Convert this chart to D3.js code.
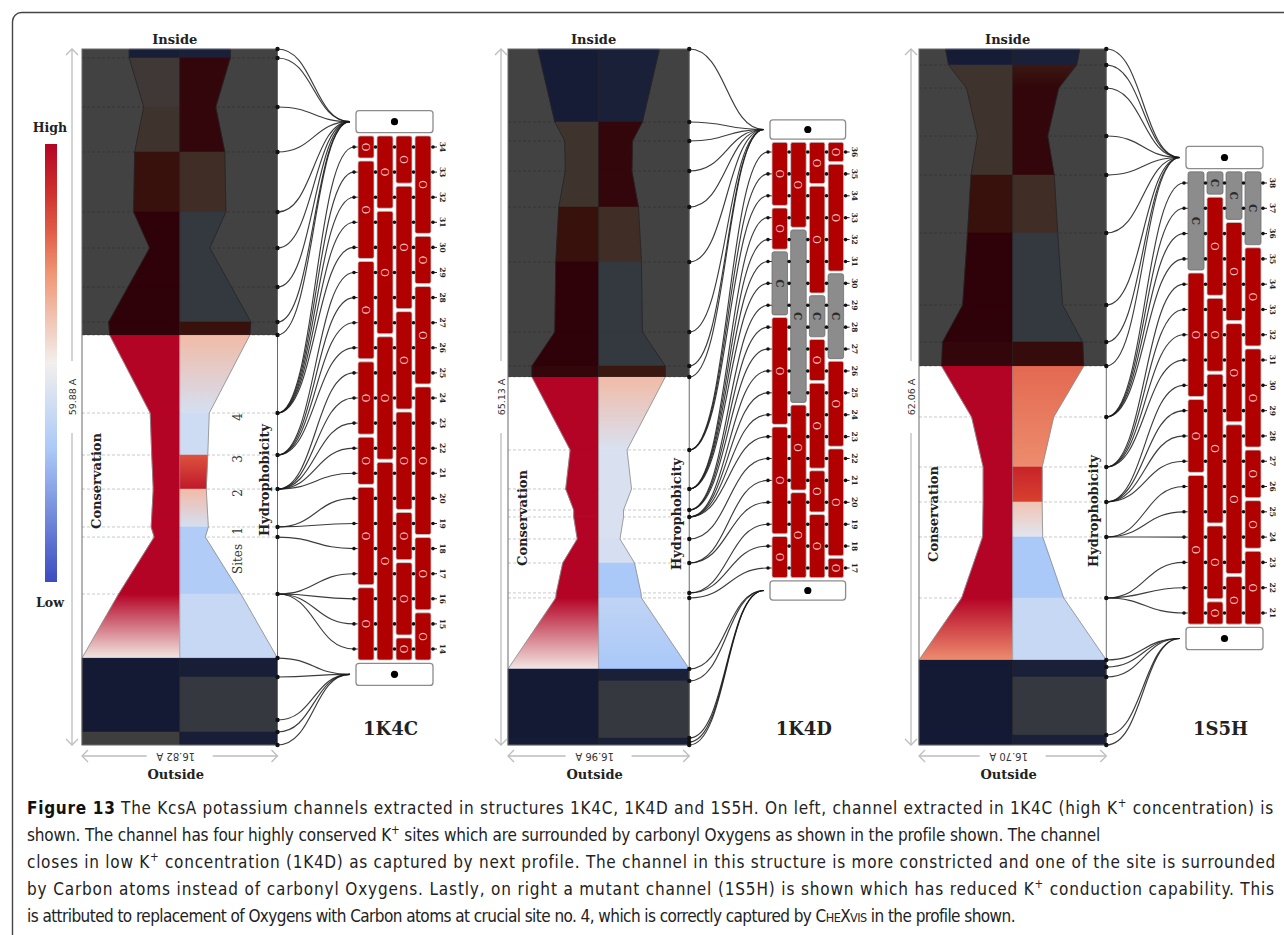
<!DOCTYPE html>
<html>
<head>
<meta charset="utf-8">
<script src="https://cdn.jsdelivr.net/npm/d3@7"></script>
<style>
  body { margin: 0; background: #fff; }
  svg { display: block; }
</style>
</head>
<body>
<svg id="fig" width="1284" height="935"></svg>
<script>
// channel names, lengths and widths (Angstrom)
var panels = ['1K4C', '1K4D', '1S5H'];
var channelLength = [59.88, 65.13, 62.06];
var channelWidth = [16.82, 16.96, 16.70];
// the dark (outside the membrane) parts of each channel, in Angstrom from the top
var overlayTopEnd = [24.61, 30.69, 28.27];
var overlayBottomStart = [52.40, 58.01, 54.48];

// profile nodes: depth along channel and radius (Angstrom)
var depth1K4C = [0, 0.77, 4.99, 8.86, 14.02, 17.12, 20.48, 23.49, 24.61, 31.32, 34.93, 37.86, 41.12, 41.99, 46.89, 52.40, 54.03, 57.73, 58.76, 59.88];
var radius1K4C = [4.35, 4.35, 3.10, 3.88, 3.97, 2.59, 4.45, 6.12, 6.03, 2.54, 2.41, 2.28, 2.46, 2.20, 5.26, 8.41, 8.41, 8.41, 8.41, 8.41];
var depth1K4D = [0, 6.83, 8.61, 11.42, 14.79, 19.93, 26.48, 29.66, 30.69, 37.52, 41.17, 43.14, 43.79, 45.85, 48.10, 50.90, 51.37, 58.01, 59.13, 64.47, 64.84, 65.13];
var radius1K4D = [5.69, 4.10, 3.17, 3.12, 3.73, 4.01, 4.10, 6.24, 6.24, 2.66, 3.08, 2.33, 2.33, 2.00, 3.36, 3.96, 4.01, 8.48, 8.48, 8.48, 8.48, 8.48];
var depth1S5H = [0, 1.43, 3.48, 7.76, 11.24, 16.41, 22.83, 26.13, 28.27, 32.81, 37.27, 40.39, 43.51, 48.95, 54.48, 55.11, 56.0, 61.17, 62.06];
var radius1S5H = [5.98, 5.71, 4.11, 3.13, 3.71, 4.02, 4.46, 6.25, 6.34, 3.66, 2.63, 2.63, 2.68, 4.55, 8.35, 8.35, 8.35, 8.35, 8.35];

// per segment (between nodes) conservation and hydrophobicity, 0 = low, 1 = high
// [a, b] means a gradient from top to bottom of the segment
var cons1K4C = [0.1, 0.55, 0.6, 0.85, 1, 1, 1, 1, 1, 1, 1, 1, 1, 1, [1, 0.52], 0.05, 0.05, 0.05, 0.5];
var hydro1K4C = [0.12, 0.95, 0.95, 0.65, 0.38, 0.38, 0.38, 0.85, [0.62, 0.42], 0.4, [0.82, 0.95], [0.62, 0.42], 0.32, 0.32, 0.38, 0.1, 0.4, 0.4, 0.1];
var cons1K4D = [0.08, 0.6, 0.6, 0.6, 0.85, 1, 1, 0.95, 1, 1, 1, 1, 1, 1, 1, 1, [1, 0.52], 0.05, 0.05, 0.08, 0.08];
var hydro1K4D = [0.12, 0.95, 0.95, 0.95, 0.65, 0.38, 0.38, 0.8, [0.62, 0.43], 0.43, 0.43, 0.43, 0.43, 0.42, 0.3, 0.3, [0.36, 0.3], 0.12, 0.4, 0.12, 0.12];
var cons1S5H = [0.08, 0.6, 0.6, 0.6, 0.85, 1, 1, 0.95, 1, 1, 1, 1, 1, [1, 0.72], 0.05, 0.05, 0.05, 0.05];
var hydro1S5H = [0.12, [0.8, 0.95], 0.95, 0.95, 0.65, 0.38, 0.38, 0.9, [0.78, 0.75], [0.75, 0.72], [0.92, 0.85], [0.6, 0.45], 0.3, 0.38, 0.12, 0.12, 0.4, 0.12];

// lining residue rows (top to bottom) and the profile node each row is linked to
var rows1K4C = d3.range(34, 13, -1);
var rowNode1K4C = [9, 9, 9, 9, 9, 10, 10, 10, 10, 11, 11, 11, 11, 11, 12, 12, 13, 14, 14, 14, 14];
var rows1K4D = d3.range(36, 16, -1);
var rowNode1K4D = [9, 9, 9, 10, 10, 10, 10, 11, 11, 11, 12, 12, 12, 12, 13, 14, 14, 15, 15, 16];
var rows1S5H = d3.range(38, 20, -1);
var rowNode1S5H = [9, 9, 9, 9, 10, 10, 10, 10, 11, 11, 11, 11, 12, 12, 12, 13, 13, 13];

// atoms: [column, first row, last row, atom]
var cells1K4C = [
  [0, 34, 34, 'O'], [0, 33, 30, 'O'], [0, 29, 26, 'O'], [0, 25, 23, 'O'], [0, 22, 21, 'O'], [0, 20, 17, 'O'], [0, 16, 14, 'O'],
  [1, 34, 32, 'O'], [1, 31, 27, 'O'], [1, 26, 22, 'O'], [1, 21, 14, 'O'],
  [2, 34, 33, 'O'], [2, 32, 28, 'O'], [2, 27, 24, 'O'], [2, 23, 20, 'O'], [2, 19, 18, 'O'], [2, 17, 15, 'O'], [2, 14, 14, 'O'],
  [3, 34, 31, 'O'], [3, 30, 29, 'O'], [3, 28, 25, 'O'], [3, 24, 19, 'O'], [3, 18, 16, 'O'], [3, 15, 14, 'O']
];
var cells1K4D = [
  [0, 36, 34, 'O'], [0, 33, 32, 'O'], [0, 31, 29, 'C'], [0, 28, 24, 'O'], [0, 23, 19, 'O'], [0, 18, 17, 'O'],
  [1, 36, 33, 'O'], [1, 32, 25, 'C'], [1, 24, 21, 'O'], [1, 20, 17, 'O'],
  [2, 36, 35, 'O'], [2, 34, 30, 'O'], [2, 29, 28, 'C'], [2, 27, 26, 'O'], [2, 25, 22, 'O'], [2, 21, 20, 'O'], [2, 19, 17, 'O'],
  [3, 36, 36, 'O'], [3, 35, 31, 'O'], [3, 30, 27, 'C'], [3, 26, 23, 'O'], [3, 22, 18, 'O'], [3, 17, 17, 'O']
];
var cells1S5H = [
  [0, 38, 35, 'C'], [0, 34, 30, 'O'], [0, 29, 27, 'O'], [0, 26, 21, 'O'],
  [1, 38, 38, 'C'], [1, 37, 34, 'O'], [1, 33, 31, 'O'], [1, 30, 25, 'O'], [1, 24, 22, 'O'], [1, 21, 21, 'O'],
  [2, 38, 37, 'C'], [2, 36, 33, 'O'], [2, 32, 29, 'O'], [2, 28, 23, 'O'], [2, 22, 21, 'O'],
  [3, 38, 36, 'C'], [3, 35, 32, 'O'], [3, 31, 28, 'O'], [3, 27, 26, 'O'], [3, 25, 24, 'O'], [3, 23, 21, 'O']
];

var siteLabels = ['4', '3', '2', '1'];

var depths = [depth1K4C, depth1K4D, depth1S5H];
var radii = [radius1K4C, radius1K4D, radius1S5H];
var consAll = [cons1K4C, cons1K4D, cons1S5H];
var hydroAll = [hydro1K4C, hydro1K4D, hydro1S5H];
var rowsAll = [rows1K4C, rows1K4D, rows1S5H];
var rowNodeAll = [rowNode1K4C, rowNode1K4D, rowNode1S5H];
var cellsAll = [cells1K4C, cells1K4D, cells1S5H];

// layout
var profTop = 49, profBottom = 745;
var rectLeft = [82, 508, 919];
var arrowX = [72, 501, 911];
var gridLeft = [358, 772, 1188];
var colPitch = [19, 18.7, 19];
var colW = [16, 15.5, 16];
var rowFirstY = [147, 152, 183];
var rowLastY = [649, 568, 613];
var consLabelY = [481, 518, 514];
var hydroLabelY = [480, 514, 511];

var serif = '"DejaVu Serif", "Liberation Serif", serif';
var sans = '"DejaVu Sans", sans-serif';

var heat = d3.scaleLinear()
  .domain([0, 0.3, 0.5, 0.7, 0.85, 1])
  .range(['#3b4cc0', '#aac8f8', '#f2efed', '#f09878', '#d8402e', '#b40426']);

var svg = d3.select('#fig');
var defs = svg.append('defs');

// outer frame
svg.append('rect').attr('x', 12.5).attr('y', 12.5).attr('width', 1300).attr('height', 960)
  .attr('rx', 9).attr('fill', 'none').attr('stroke', '#444').attr('stroke-width', 1.4);

// legend
var lg = defs.append('linearGradient').attr('id', 'legendGrad')
  .attr('x1', 0).attr('y1', 0).attr('x2', 0).attr('y2', 1);
d3.range(0, 1.001, 0.1).forEach(function (t) {
  lg.append('stop').attr('offset', t).attr('stop-color', heat(1 - t));
});
svg.append('rect').attr('x', 45).attr('y', 144).attr('width', 12).attr('height', 438).attr('fill', 'url(#legendGrad)');
svg.append('text').attr('x', 50).attr('y', 132).attr('text-anchor', 'middle')
  .attr('font-family', serif).attr('font-weight', 'bold').attr('font-size', 12.5).attr('fill', '#222').text('High');
svg.append('text').attr('x', 50).attr('y', 607).attr('text-anchor', 'middle')
  .attr('font-family', serif).attr('font-weight', 'bold').attr('font-size', 12.5).attr('fill', '#222').text('Low');

var link = d3.linkHorizontal();
var line = d3.line();

function segFill(v, id, ya, yb) {
  if (!Array.isArray(v)) return heat(v);
  var g = defs.append('linearGradient').attr('id', id).attr('gradientUnits', 'userSpaceOnUse')
    .attr('x1', 0).attr('x2', 0).attr('y1', ya).attr('y2', yb);
  g.append('stop').attr('offset', 0).attr('stop-color', heat(v[0]));
  g.append('stop').attr('offset', 1).attr('stop-color', heat(v[1]));
  return 'url(#' + id + ')';
}

function chevron(g, x, y, dir) {
  // dir: 'up', 'down', 'left', 'right'
  var s = 6, pts;
  if (dir === 'up') pts = [[x - s, y + s], [x, y], [x + s, y + s]];
  if (dir === 'down') pts = [[x - s, y - s], [x, y], [x + s, y - s]];
  if (dir === 'left') pts = [[x + s, y - s], [x, y], [x + s, y + s]];
  if (dir === 'right') pts = [[x - s, y - s], [x, y], [x - s, y + s]];
  g.append('path').attr('d', line(pts)).attr('fill', 'none').attr('stroke', '#bdbdbd').attr('stroke-width', 1.3);
}

panels.forEach(function (name, p) {
  var g = svg.append('g');
  var dep = depths[p], rad = radii[p];
  var y = d3.scaleLinear().domain([0, channelLength[p]]).range([profTop, profBottom]);
  var pxPerA = (profBottom - profTop) / channelLength[p];
  var rectW = channelWidth[p] * pxPerA;
  var x0 = rectLeft[p], x1 = x0 + rectW, cx = x0 + rectW / 2;
  var r = d3.scaleLinear().domain([0, channelWidth[p] / 2]).range([0, rectW / 2]);

  // background
  g.append('rect').attr('x', x0).attr('y', profTop).attr('width', rectW).attr('height', profBottom - profTop).attr('fill', '#fff');

  // dashed node lines
  g.selectAll('line.dash').data(dep.slice(1, -1)).enter().append('line')
    .attr('x1', x0).attr('x2', x1).attr('y1', function (d) { return y(d); }).attr('y2', function (d) { return y(d); })
    .attr('stroke', '#c4c4c4').attr('stroke-width', 0.9).attr('stroke-dasharray', '3,2');

  // profile segments
  var segs = d3.range(dep.length - 1);
  segs.forEach(function (i) {
    var ya = y(dep[i]), yb = y(dep[i + 1]);
    var fc = segFill(consAll[p][i], 'c' + p + '_' + i, ya, yb);
    var fh = segFill(hydroAll[p][i], 'h' + p + '_' + i, ya, yb);
    g.append('path')
      .attr('d', line([[cx - r(rad[i]), ya], [cx, ya], [cx, yb], [cx - r(rad[i + 1]), yb]]) + 'Z')
      .attr('fill', fc).attr('stroke', fc).attr('stroke-width', 0.5);
    g.append('path')
      .attr('d', line([[cx, ya], [cx + r(rad[i]), ya], [cx + r(rad[i + 1]), yb], [cx, yb]]) + 'Z')
      .attr('fill', fh).attr('stroke', fh).attr('stroke-width', 0.5);
  });

  // profile outline and centre line
  g.append('path').attr('d', line(dep.map(function (d, i) { return [cx - r(rad[i]), y(d)]; })))
    .attr('fill', 'none').attr('stroke', '#8a8a8a').attr('stroke-width', 0.8);
  g.append('path').attr('d', line(dep.map(function (d, i) { return [cx + r(rad[i]), y(d)]; })))
    .attr('fill', 'none').attr('stroke', '#8a8a8a').attr('stroke-width', 0.8);
  g.append('line').attr('x1', cx).attr('x2', cx).attr('y1', profTop).attr('y2', profBottom)
    .attr('stroke', '#8a8a8a').attr('stroke-width', 0.6);

  // dark overlays for the parts outside the membrane
  g.append('rect').attr('x', x0).attr('y', profTop).attr('width', rectW).attr('height', y(overlayTopEnd[p]) - profTop)
    .attr('fill', '#000').attr('opacity', 0.74);
  g.append('rect').attr('x', x0).attr('y', y(overlayBottomStart[p])).attr('width', rectW)
    .attr('height', profBottom - y(overlayBottomStart[p])).attr('fill', '#000').attr('opacity', 0.74);

  g.append('rect').attr('x', x0).attr('y', profTop).attr('width', rectW).attr('height', profBottom - profTop)
    .attr('fill', 'none').attr('stroke', '#6a6a6a').attr('stroke-width', 1);

  // labels on the profile
  g.append('text').attr('transform', 'translate(' + (x0 + 14) + ',' + consLabelY[p] + ') rotate(-90)')
    .attr('text-anchor', 'middle').attr('dominant-baseline', 'central')
    .attr('font-family', serif).attr('font-weight', 'bold').attr('font-size', 13).attr('fill', '#222').text('Conservation');
  g.append('text').attr('transform', 'translate(' + (x1 - 13) + ',' + hydroLabelY[p] + ') rotate(-90)')
    .attr('text-anchor', 'middle').attr('dominant-baseline', 'central')
    .attr('font-family', serif).attr('font-weight', 'bold').attr('font-size', 13).attr('fill', '#222').text('Hydrophobicity');

  if (p === 0) {
    siteLabels.forEach(function (s, k) {
      g.append('text').attr('transform', 'translate(' + (x1 - 40) + ',' + (y(dep[9 + k]) + 4) + ') rotate(-90)')
        .attr('text-anchor', 'middle').attr('dominant-baseline', 'central')
        .attr('font-family', serif).attr('font-size', 12).attr('fill', '#333').text(s);
    });
    g.append('text').attr('transform', 'translate(' + (x1 - 40) + ',' + 559 + ') rotate(-90)')
      .attr('text-anchor', 'middle').attr('dominant-baseline', 'central')
      .attr('font-family', serif).attr('font-size', 12).attr('fill', '#333').text('Sites');
  }

  // Inside / Outside
  g.append('text').attr('x', cx - 5).attr('y', 44).attr('text-anchor', 'middle')
    .attr('font-family', serif).attr('font-weight', 'bold').attr('font-size', 13).attr('fill', '#222').text('Inside');
  g.append('text').attr('x', cx - 4).attr('y', 779).attr('text-anchor', 'middle')
    .attr('font-family', serif).attr('font-weight', 'bold').attr('font-size', 13).attr('fill', '#222').text('Outside');

  // length arrow
  var ax = arrowX[p], mid = (profTop + profBottom) / 2;
  g.append('line').attr('x1', ax).attr('x2', ax).attr('y1', profTop).attr('y2', mid - 36).attr('stroke', '#bdbdbd').attr('stroke-width', 1.3);
  g.append('line').attr('x1', ax).attr('x2', ax).attr('y1', mid + 36).attr('y2', profBottom).attr('stroke', '#bdbdbd').attr('stroke-width', 1.3);
  chevron(g, ax, profTop, 'up');
  chevron(g, ax, profBottom, 'down');
  g.append('text').attr('transform', 'translate(' + ax + ',' + mid + ') rotate(-90)')
    .attr('text-anchor', 'middle').attr('dominant-baseline', 'central')
    .attr('font-family', sans).attr('font-size', 9.5).attr('fill', '#333')
    .text(channelLength[p].toFixed(2) + ' A');

  // width arrow
  var ay = 756;
  g.append('line').attr('x1', x0).attr('x2', cx - 33).attr('y1', ay).attr('y2', ay).attr('stroke', '#bdbdbd').attr('stroke-width', 1.3);
  g.append('line').attr('x1', cx + 33).attr('x2', x1).attr('y1', ay).attr('y2', ay).attr('stroke', '#bdbdbd').attr('stroke-width', 1.3);
  chevron(g, x0, ay, 'left');
  chevron(g, x1, ay, 'right');
  g.append('text').attr('transform', 'translate(' + (cx - 4) + ',' + ay + ') rotate(180)')
    .attr('text-anchor', 'middle').attr('dominant-baseline', 'central')
    .attr('font-family', sans).attr('font-size', 10).attr('fill', '#333')
    .text(channelWidth[p].toFixed(2) + ' A');

  // atom grid
  var rows = rowsAll[p];
  var ry = d3.scaleLinear().domain([rows[0], rows[rows.length - 1]]).range([rowFirstY[p], rowLastY[p]]);
  var pitch = (rowLastY[p] - rowFirstY[p]) / (rows.length - 1);
  var gl = gridLeft[p], cp = colPitch[p], cw = colW[p];
  var gr = gl + 3 * cp + cw;
  var gcx = (gl + gr) / 2;
  var gridTop = rowFirstY[p] - pitch * 0.45, gridBottom = rowLastY[p] + pitch * 0.45;
  var boxH = pitch * 0.88;
  var topBoxY = gridTop - 3 - boxH, botBoxY = gridBottom + 3;
  var topPt = [gl - 8, topBoxY + boxH / 2], botPt = [gl - 8, botBoxY + boxH / 2];

  // links from profile nodes
  var links = [];
  dep.forEach(function (d, i) {
    var src = [x1, y(d)];
    if (d <= overlayTopEnd[p] + 0.01) links.push({ source: src, target: topPt });
    else if (d >= overlayBottomStart[p] - 0.01) links.push({ source: src, target: botPt });
  });
  rows.forEach(function (rw, k) {
    links.push({ source: [x1, y(dep[rowNodeAll[p][k]])], target: [gl - 4, ry(rw)] });
  });
  g.selectAll('path.link').data(links).enter().append('path')
    .attr('d', link).attr('fill', 'none').attr('stroke', '#1a1a1a').attr('stroke-width', 1.15).attr('stroke-opacity', 0.85);
  g.selectAll('circle.node').data(dep).enter().append('circle')
    .attr('cx', x1).attr('cy', function (d) { return y(d); }).attr('r', 2.2).attr('fill', '#111');

  // boxes
  [topBoxY, botBoxY].forEach(function (by) {
    g.append('rect').attr('x', gl - 2).attr('y', by).attr('width', gr - gl + 4).attr('height', boxH)
      .attr('rx', 3).attr('fill', '#fff').attr('stroke', '#8c8c8c').attr('stroke-width', 1.3);
    g.append('circle').attr('cx', gcx).attr('cy', by + boxH / 2).attr('r', 3.6).attr('fill', '#000');
  });

  // row lines
  g.selectAll('line.row').data(rows).enter().append('line')
    .attr('x1', gl - 5).attr('x2', gr + 6).attr('y1', function (d) { return ry(d); }).attr('y2', function (d) { return ry(d); })
    .attr('stroke', '#222').attr('stroke-width', 1);

  // cells
  var cells = cellsAll[p];
  g.selectAll('rect.cell').data(cells).enter().append('rect')
    .attr('x', function (c) { return gl + c[0] * cp; })
    .attr('y', function (c) { return ry(c[1]) - pitch * 0.44; })
    .attr('width', cw)
    .attr('height', function (c) { return ry(c[2]) - ry(c[1]) + pitch * 0.88; })
    .attr('rx', 2)
    .attr('fill', function (c) { return c[3] === 'O' ? '#b00000' : '#8c8c8c'; })
    .attr('stroke', function (c) { return c[3] === 'O' ? '#c8c8c8' : '#6e6e6e'; })
    .attr('stroke-width', 0.8);
  g.selectAll('text.cell').data(cells).enter().append('text')
    .attr('transform', function (c) {
      return 'translate(' + (gl + c[0] * cp + cw / 2) + ',' + ((ry(c[1]) + ry(c[2])) / 2) + ') rotate(90)';
    })
    .attr('text-anchor', 'middle').attr('dominant-baseline', 'central')
    .attr('font-family', serif).attr('font-size', 10.5)
    .attr('font-weight', function (c) { return c[3] === 'O' ? 'normal' : 'bold'; })
    .attr('fill', function (c) { return c[3] === 'O' ? '#f4c4c4' : '#2a2a2a'; })
    .text(function (c) { return c[3]; });

  // row dots and labels
  var dotX = [gl - 4, gl + cp - (cp - cw) / 2, gl + 2 * cp - (cp - cw) / 2, gl + 3 * cp - (cp - cw) / 2, gr + 2];
  rows.forEach(function (rw) {
    dotX.forEach(function (dx) {
      g.append('circle').attr('cx', dx).attr('cy', ry(rw)).attr('r', 1.8).attr('fill', '#111');
    });
    g.append('text').attr('transform', 'translate(' + (gr + 11) + ',' + ry(rw) + ') rotate(90)')
      .attr('text-anchor', 'middle').attr('dominant-baseline', 'central')
      .attr('font-family', serif).attr('font-weight', 'bold').attr('font-size', 7.5).attr('fill', '#222').text(rw);
  });

  // structure name
  g.append('text').attr('x', gcx - 4).attr('y', 735).attr('text-anchor', 'middle')
    .attr('font-family', serif).attr('font-weight', 'bold').attr('font-size', 18).attr('fill', '#222').text(name);
});

// caption
var capFont = '"DejaVu Sans Condensed", "Liberation Sans Narrow", "Open Sans", sans-serif';
var captionLines = [
  [['b', 'Figure 13'], ['n', ' The KcsA potassium channels extracted in structures 1K4C, 1K4D and 1S5H. On left, channel extracted in 1K4C (high K'], ['s', '+'], ['n', ' concentration) is']],
  [['n', 'shown. The channel has four highly conserved K'], ['s', '+'], ['n', ' sites which are surrounded by carbonyl Oxygens as shown in the profile shown. The channel']],
  [['n', 'closes in low K'], ['s', '+'], ['n', ' concentration (1K4D) as captured by next profile. The channel in this structure is more constricted and one of the site is surrounded']],
  [['n', 'by Carbon atoms instead of carbonyl Oxygens. Lastly, on right a mutant channel (1S5H) is shown which has reduced K'], ['s', '+'], ['n', ' conduction capability. This']],
  [['n', 'is attributed to replacement of Oxygens with Carbon atoms at crucial site no. 4, which is correctly captured by C'], ['k', 'HE'], ['n', 'X'], ['k', 'VIS'], ['n', ' in the profile shown.']]
];
var captionEnd = [1274, 1100, 1276, 1275, 1015];
captionLines.forEach(function (parts, li) {
  var t = svg.append('text').attr('x', 27).attr('y', 814 + li * 27)
    .attr('font-family', capFont).attr('font-size', 17).attr('fill', '#222');
  var lifted = false, nChars = 0;
  parts.forEach(function (pt) {
    var ts = t.append('tspan').text(pt[1]);
    nChars += pt[1].length;
    if (pt[0] === 'b') ts.attr('font-weight', 'bold').attr('fill', '#111');
    if (pt[0] === 'k') ts.attr('font-size', 12.5);
    if (pt[0] === 's') { ts.attr('font-size', 11.5).attr('dy', -7); lifted = true; }
    else if (lifted) { ts.attr('dy', 7); lifted = false; }
  });
  // fit the line to its width in the reference by letter spacing
  var natural = t.node().getComputedTextLength();
  var target = captionEnd[li] - 27;
  t.attr('letter-spacing', ((target - natural) / nChars).toFixed(3));
});
</script>
</body>
</html>
